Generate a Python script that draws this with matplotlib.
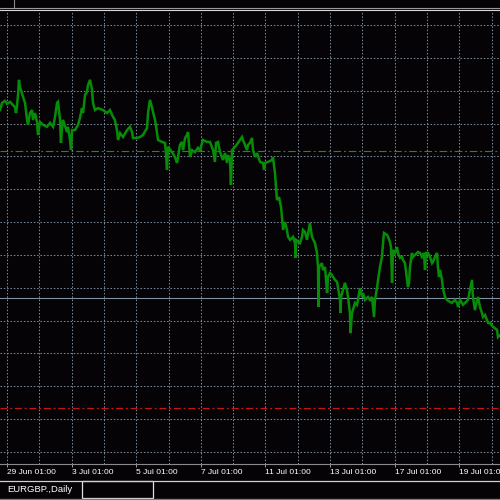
import matplotlib
matplotlib.use("Agg")
import matplotlib.pyplot as plt
from matplotlib.lines import Line2D
from matplotlib.patches import Rectangle
from matplotlib import font_manager as fm

# ---- data (hours since 29 Jun 01:00, trading time; EURGBP price) ----
hours = [-5.2, -3.7, -1.5, 0.0, 2.2, 4.5, 5.9, 6.7, 7.4, 8.2, 8.9, 9.7, 10.4, 11.9, 13.4,
         14.9, 15.6, 17.1, 18.6, 19.3, 20.8, 22.3, 23.0, 24.5, 26.7, 29.7, 32.0, 34.2, 35.7,
         37.2, 37.9, 39.4, 40.1, 40.9, 41.6, 44.6, 45.3, 46.8, 47.6, 48.3, 50.5, 52.8, 54.2,
         55.7, 56.5, 58.0, 59.4, 60.2, 61.7, 63.2, 63.9, 65.4, 67.6, 71.3, 74.3, 76.5, 78.8,
         80.2, 81.7, 82.5, 84.0, 86.2, 89.2, 91.4, 92.9, 93.6, 96.6, 98.8, 101.0, 104.0, 104.8,
         106.2, 107.7, 108.5, 110.0, 111.5, 112.2, 115.2, 117.4, 118.1, 118.9, 119.6, 122.6,
         124.8, 126.3, 127.1, 128.5, 130.0, 130.8, 132.3, 133.7, 134.5, 136.0, 137.5, 139.7,
         141.9, 143.4, 145.6, 148.6, 150.8, 153.1, 154.5, 155.3, 156.8, 158.3, 159.7, 160.5,
         162.0, 163.5, 164.2, 165.7, 166.4, 167.2, 169.4, 171.6, 174.6, 175.3, 176.8, 178.3,
         179.1, 180.5, 182.0, 182.8, 184.3, 185.8, 188.0, 190.2, 191.0, 191.7, 193.9, 196.9,
         197.6, 199.1, 199.9, 200.6, 202.1, 203.6, 204.3, 205.1, 206.6, 208.0, 208.8, 210.3,
         212.5, 214.0, 214.4, 214.7, 217.7, 219.2, 219.9, 221.4, 222.9, 225.1, 226.6, 228.8,
         230.3, 231.1, 231.4, 231.8, 234.0, 234.8, 236.3, 237.8, 238.5, 240.0, 241.5, 242.2,
         243.7, 245.2, 245.9, 247.4, 247.8, 248.2, 249.6, 251.1, 252.6, 253.4, 254.8, 255.2,
         256.3, 258.6, 260.1, 262.3, 263.8, 264.5, 266.0, 268.2, 269.7, 271.2, 271.9, 272.7,
         273.4, 274.9, 275.7, 277.1, 278.6, 279.4, 280.1, 282.3, 283.1, 284.6, 285.3, 286.1,
         286.8, 288.3, 289.8, 290.5, 292.0, 293.5, 294.2, 295.7, 297.2, 297.9, 298.7, 299.4,
         300.9, 301.7, 303.1, 304.6, 305.4, 306.9, 308.3, 309.8, 310.6, 311.3, 312.8, 314.3,
         315.8, 316.5, 318.0, 319.5, 320.2, 321.0, 321.7, 323.2, 323.9, 325.4, 326.9, 329.1,
         330.6, 332.9, 334.4, 335.1, 336.6, 338.8, 340.3, 342.5, 344.0, 345.5, 346.2, 347.7,
         349.2, 350.0, 351.4, 352.9, 353.7, 355.2, 356.6, 357.4, 358.9, 361.1, 364.1, 364.8,
         366.3]
prices = [0.88741, 0.88763, 0.88769, 0.88760, 0.88766, 0.88756, 0.88750, 0.88732, 0.88753,
          0.88787, 0.88833, 0.88808, 0.88802, 0.88781, 0.88763, 0.88711, 0.88696, 0.88732,
          0.88741, 0.88711, 0.88732, 0.88705, 0.88665, 0.88705, 0.88696, 0.88690, 0.88702,
          0.88690, 0.88720, 0.88763, 0.88766, 0.88711, 0.88641, 0.88690, 0.88711, 0.88674,
          0.88690, 0.88650, 0.88619, 0.88680, 0.88680, 0.88696, 0.88717, 0.88747, 0.88732,
          0.88787, 0.88796, 0.88817, 0.88833, 0.88802, 0.88763, 0.88741, 0.88747, 0.88741,
          0.88732, 0.88741, 0.88720, 0.88711, 0.88680, 0.88650, 0.88671, 0.88659, 0.88680,
          0.88690, 0.88674, 0.88656, 0.88656, 0.88659, 0.88665, 0.88686, 0.88732, 0.88772,
          0.88750, 0.88735, 0.88711, 0.88671, 0.88650, 0.88644, 0.88641, 0.88610, 0.88559,
          0.88629, 0.88613, 0.88598, 0.88580, 0.88598, 0.88635, 0.88644, 0.88619, 0.88656,
          0.88665, 0.88674, 0.88598, 0.88619, 0.88613, 0.88626, 0.88619, 0.88650, 0.88644,
          0.88644, 0.88619, 0.88583, 0.88641, 0.88644, 0.88613, 0.88598, 0.88589, 0.88610,
          0.88580, 0.88604, 0.88589, 0.88513, 0.88619, 0.88629, 0.88641, 0.88659, 0.88650,
          0.88635, 0.88619, 0.88635, 0.88641, 0.88656, 0.88619, 0.88598, 0.88610, 0.88583,
          0.88580, 0.88559, 0.88580, 0.88583, 0.88589, 0.88598, 0.88549, 0.88507, 0.88467,
          0.88476, 0.88446, 0.88416, 0.88376, 0.88400, 0.88376, 0.88355, 0.88346, 0.88355,
          0.88336, 0.88291, 0.88346, 0.88336, 0.88355, 0.88376, 0.88370, 0.88346, 0.88397,
          0.88355, 0.88336, 0.88306, 0.88263, 0.88142, 0.88263, 0.88275, 0.88254, 0.88263,
          0.88184, 0.88233, 0.88245, 0.88239, 0.88233, 0.88224, 0.88218, 0.88202, 0.88163,
          0.88123, 0.88172, 0.88193, 0.88215, 0.88193, 0.88172, 0.88123, 0.88062, 0.88123,
          0.88154, 0.88148, 0.88199, 0.88172, 0.88184, 0.88163, 0.88172, 0.88163, 0.88172,
          0.88142, 0.88111, 0.88163, 0.88199, 0.88224, 0.88263, 0.88294, 0.88336, 0.88367,
          0.88361, 0.88355, 0.88339, 0.88324, 0.88215, 0.88315, 0.88306, 0.88324, 0.88306,
          0.88291, 0.88294, 0.88285, 0.88275, 0.88224, 0.88202, 0.88215, 0.88263, 0.88306,
          0.88294, 0.88300, 0.88306, 0.88309, 0.88306, 0.88294, 0.88306, 0.88254, 0.88306,
          0.88306, 0.88294, 0.88275, 0.88279, 0.88294, 0.88306, 0.88263, 0.88233, 0.88254,
          0.88224, 0.88199, 0.88172, 0.88163, 0.88157, 0.88154, 0.88163, 0.88154, 0.88142,
          0.88163, 0.88148, 0.88154, 0.88163, 0.88193, 0.88224, 0.88172, 0.88132, 0.88163,
          0.88172, 0.88142, 0.88123, 0.88111, 0.88117, 0.88102, 0.88093, 0.88093, 0.88081,
          0.88072, 0.88050, 0.88056]

level_green = 0.88617
level_bid = 0.88169
level_red = 0.87835

tick_hours = [0, 48, 96, 144, 192, 240, 288, 336]
tick_labels = ["29 Jun 01:00", "3 Jul 01:00", "5 Jul 01:00", "7 Jul 01:00",
               "11 Jul 01:00", "13 Jul 01:00", "17 Jul 01:00", "19 Jul 01:00"]
grid_hours = list(range(0, 361, 24))
grid_prices = [0.890 - 0.001 * k for k in range(14)]
tab_title = "EURGBP.,Daily"


def pick(names):
    for n in names:
        try:
            fm.findfont(fm.FontProperties(family=n), fallback_to_default=False)
            return n
        except Exception:
            pass
    return "DejaVu Sans"


narrow = pick(["Liberation Sans Narrow", "Liberation Sans"])
plt.rcParams["lines.scale_dashes"] = False

W = H = 500
fig = plt.figure(figsize=(5, 5), dpi=100, facecolor="#050305")
ax = fig.add_axes([0, (W - 464) / H, 1, (464 - 11) / H])
ax.set_facecolor("#050305")

ax.set_xlim(-5.2, 366.3)
ax.set_ylim(0.876635, 0.890426)

grid_color = "#778899"
for g in grid_hours:
    ax.axvline(g, color=grid_color, lw=0.75, linestyle=(0, (1.1, 1.3)), zorder=1)
for g in grid_prices:
    ax.axhline(g, color=grid_color, lw=0.75, linestyle=(0, (1.1, 1.3)), zorder=1)

ax.axhline(level_green, color="#0a9a0a", lw=0.8, linestyle=(0, (5.5, 2.0, 1.4, 2.0)), zorder=2)
ax.axhline(level_bid, color="#7d91a5", lw=0.8, zorder=2)
ax.axhline(level_red, color="#c81414", lw=0.9, linestyle=(0, (5.0, 2.0, 1.4, 2.0)), zorder=2)

ax.plot(hours, prices, color="#078c08", lw=1.8, solid_joinstyle="miter", zorder=3)

for s in ["top", "left", "right"]:
    ax.spines[s].set_visible(False)
ax.spines["bottom"].set_color("#8a8a8a")
ax.spines["bottom"].set_linewidth(0.8)
ax.set_yticks([])
ax.set_xticks(tick_hours)
ax.set_xticklabels(tick_labels, ha="left", color="white", fontsize=6.05, family=[narrow, "DejaVu Sans"])
ax.tick_params(axis="x", colors="#9a9a9a", length=2.5, width=0.7, pad=1.4, labelcolor="white")

# frame / window decorations
def fy(ypx):
    return 1 - ypx / H

fig.add_artist(Line2D([0, 1], [fy(8.3), fy(8.3)], transform=fig.transFigure, color="#9a9a9a", lw=0.8))
fig.add_artist(Line2D([0, 1], [fy(10.4), fy(10.4)], transform=fig.transFigure, color="#d8d8d8", lw=0.8))
fig.add_artist(Line2D([13.5 / W, 13.5 / W], [fy(0), fy(7)], transform=fig.transFigure, color="#8a8a8a", lw=0.8))
fig.add_artist(Line2D([0, 1], [fy(480.5), fy(480.5)], transform=fig.transFigure, color="#d0d0d0", lw=0.9))
fig.add_artist(Line2D([0, 1], [fy(498.8), fy(498.8)], transform=fig.transFigure, color="#7a7a7a", lw=1.0))
fig.add_artist(Rectangle((81.5 / W, fy(497.8)), (153 - 81.5) / W, (497.8 - 480.5) / H,
                         transform=fig.transFigure, fill=False, edgecolor="#e0e0e0", lw=0.9))
fig.text(7 / W, fy(490), tab_title, color="white", fontsize=6.8, ha="left", va="center",
         family=[narrow, "DejaVu Sans"])

fig.savefig("out.png", dpi=100, facecolor=fig.get_facecolor())
